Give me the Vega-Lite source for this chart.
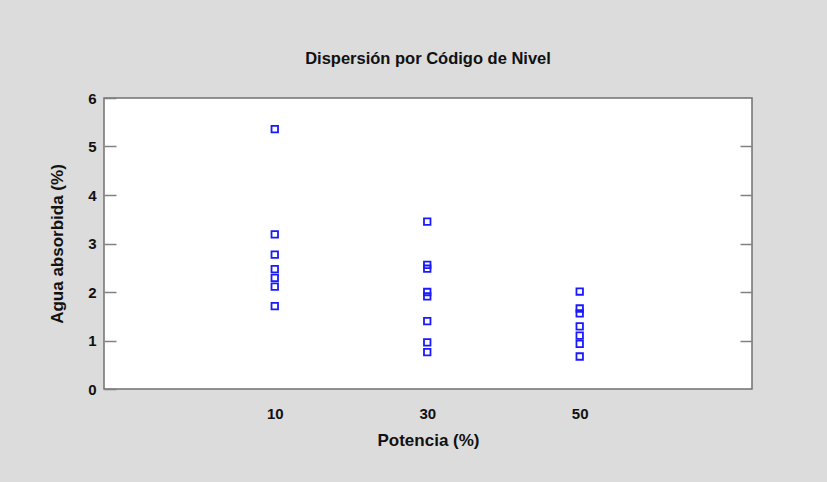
{
  "$schema": "https://vega.github.io/schema/vega-lite/v6.json",
  "autosize": "none",
  "width": 648,
  "height": 291,
  "padding": {"left": 104, "top": 98, "right": 75, "bottom": 93},
  "background": "#dcdcdc",
  "title": {
    "text": "Dispersión por Código de Nivel",
    "font": "Liberation Sans",
    "fontSize": 16.5,
    "fontWeight": "bold",
    "color": "#111111",
    "anchor": "middle",
    "offset": 24
  },
  "config": {
    "view": {"fill": "white", "stroke": "#707070", "strokeWidth": 1.5},
    "axis": {
      "labelFont": "Liberation Sans",
      "labelFontSize": 15,
      "labelFontWeight": "bold",
      "labelColor": "#111111",
      "titleFont": "Liberation Sans",
      "titleFontSize": 17,
      "titleFontWeight": "bold",
      "titleColor": "#111111",
      "grid": false,
      "domain": false
    }
  },
  "data": {
    "values": [
      {"potencia": 10, "agua": 5.36},
      {"potencia": 10, "agua": 3.19},
      {"potencia": 10, "agua": 2.77},
      {"potencia": 10, "agua": 2.47},
      {"potencia": 10, "agua": 2.29},
      {"potencia": 10, "agua": 2.11},
      {"potencia": 10, "agua": 1.71},
      {"potencia": 30, "agua": 3.45},
      {"potencia": 30, "agua": 2.56},
      {"potencia": 30, "agua": 2.48},
      {"potencia": 30, "agua": 2.0},
      {"potencia": 30, "agua": 1.91},
      {"potencia": 30, "agua": 1.4},
      {"potencia": 30, "agua": 0.96},
      {"potencia": 30, "agua": 0.76},
      {"potencia": 50, "agua": 2.01},
      {"potencia": 50, "agua": 1.66},
      {"potencia": 50, "agua": 1.56},
      {"potencia": 50, "agua": 1.29},
      {"potencia": 50, "agua": 1.1},
      {"potencia": 50, "agua": 0.93},
      {"potencia": 50, "agua": 0.67}
    ]
  },
  "encoding": {
    "x": {
      "field": "potencia",
      "type": "quantitative",
      "scale": {"domain": [-12.4, 72.6], "nice": false, "zero": false},
      "axis": {
        "title": "Potencia (%)",
        "values": [10, 30, 50],
        "labelAngle": 0,
        "ticks": false,
        "labelPadding": 17,
        "titlePadding": 11
      }
    },
    "y": {
      "field": "agua",
      "type": "quantitative",
      "scale": {"domain": [0, 6], "nice": false, "zero": true},
      "axis": {
        "title": "Agua absorbida (%)",
        "values": [0, 1, 2, 3, 4, 5, 6],
        "tickSize": -12,
        "tickColor": "#808080",
        "tickWidth": 1.5,
        "labelPadding": 20,
        "titlePadding": 21
      }
    }
  },
  "layer": [
    {
      "mark": {
        "type": "point",
        "shape": "square",
        "filled": false,
        "size": 42,
        "strokeWidth": 1.8,
        "color": "#1a1aff",
        "opacity": 1
      }
    },
    {
      "mark": {"type": "point", "opacity": 0},
      "encoding": {
        "y": {
          "field": "agua",
          "type": "quantitative",
          "axis": {
            "orient": "right",
            "title": null,
            "labels": false,
            "values": [1, 2, 3, 4, 5],
            "tickSize": -12,
            "tickColor": "#808080",
            "tickWidth": 1.5
          }
        }
      }
    }
  ],
  "resolve": {"axis": {"y": "independent"}}
}
